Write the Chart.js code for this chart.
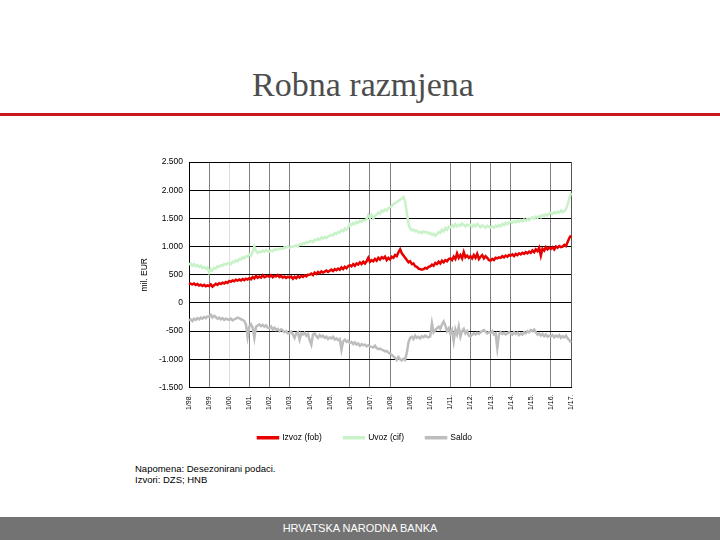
<!DOCTYPE html>
<html>
<head>
<meta charset="utf-8">
<script src="https://cdn.jsdelivr.net/npm/chart.js@4.4.1/dist/chart.umd.min.js"></script>
<style>
  body { margin: 0; width: 720px; height: 540px; background: #fff; position: relative; overflow: hidden; font-family: 'Liberation Sans', Arial, sans-serif; }
  #title { position: absolute; left: 0; width: 726px; top: 68px; text-align: center; font-family: 'Liberation Serif', 'Times New Roman', serif; font-size: 34px; line-height: 34px; color: #4d4d4d; }
  #rule { position: absolute; left: 0; top: 113px; width: 720px; height: 3px; background: #c8171e; }
  #chart { position: absolute; left: 130px; top: 150px; }
  #notes { position: absolute; left: 135px; top: 463px; font-size: 9.5px; line-height: 11px; color: #000; }
  #footer { position: absolute; left: 0; top: 517px; width: 720px; height: 23px; background: #737373; color: #fff; text-align: center; font-size: 11px; line-height: 23px; }
</style>
</head>
<body>
<div id="title">Robna razmjena</div>
<div id="rule"></div>
<canvas id="chart" width="450" height="302"></canvas>
<div id="notes">Napomena: Desezonirani podaci.<br>Izvori: DZS; HNB</div>
<div id="footer">HRVATSKA NARODNA BANKA</div>
<script>
// godišnje oznake na x osi (siječanj svake godine)
const yearTicks = ['1/98.', '1/99.', '1/00.', '1/01.', '1/02.', '1/03.', '1/04.', '1/05.', '1/06.', '1/07.',
  '1/08.', '1/09.', '1/10.', '1/11.', '1/12.', '1/13.', '1/14.', '1/15.', '1/16.', '1/17.'];

// mjesečni podaci, mil. EUR, 1/98 - 1/17
const izvoz = [
  350, 340, 330, 345, 320, 335, 310, 325, 300, 320, 295, 310,
  300, 330, 290, 315, 340, 320, 350, 335, 360, 345, 370, 355,
  390, 375, 400, 385, 410, 395, 415, 400, 425, 405, 430, 415,
  440, 420, 460, 435, 480, 445, 470, 450, 490, 455, 470, 480,
  465, 490, 455, 480, 470, 495, 460, 480, 450, 470, 445, 465,
  450, 470, 430, 465, 440, 475, 450, 480, 460, 490, 470, 500,
  500, 520, 495, 540, 515, 550, 525, 560, 540, 555, 575, 550,
  570, 590, 565, 600, 580, 610, 590, 630, 600, 640, 615, 650,
  670, 650, 690, 660, 700, 680, 720, 690, 730, 700, 740, 800,
  730, 760, 740, 780, 750, 800, 770, 810, 790, 820, 760, 800,
  770, 820, 800, 850, 830, 900, 950, 880, 840, 800, 760, 720,
  740, 690, 700, 650, 640, 610, 600, 590, 600, 620, 610, 640,
  650, 680, 660, 710, 690, 730, 700, 750, 720, 760, 740, 780,
  790, 760, 820, 780, 880, 800, 850, 790, 900, 810, 840, 800,
  830, 790, 850, 800, 870, 780, 820, 850, 790, 830, 800, 760,
  750, 780, 760, 800, 790, 810, 800, 830, 810, 840, 820, 850,
  840, 860, 830, 870, 850, 880, 860, 890, 870, 900, 880, 910,
  890, 930, 900, 950, 920, 980, 840, 960, 930, 990, 950, 980,
  960, 990, 950, 1000, 980, 1010, 990, 1000, 1030, 1010, 1080, 1150,
  1200
];

const uvoz = [
  680, 700, 660, 690, 650, 670, 640, 660, 620, 640, 610, 630,
  540, 600, 580, 620, 610, 650, 640, 670, 660, 690, 680, 700,
  710, 690, 730, 720, 760, 740, 780, 770, 810, 790, 830, 820,
  860, 840, 900, 1000, 920, 890, 910, 900, 930, 910, 940, 920,
  910, 930, 920, 950, 940, 960, 950, 970, 960, 990, 980, 1000,
  980, 990, 1000, 1010, 1020, 1000, 1040, 1030, 1060, 1050, 1080, 1070,
  1090, 1100, 1080, 1120, 1110, 1140, 1120, 1160, 1140, 1170, 1150, 1180,
  1190, 1210, 1200, 1240, 1220, 1260, 1250, 1290, 1270, 1320, 1300, 1340,
  1400, 1380, 1420, 1400, 1440, 1420, 1460, 1440, 1470, 1460, 1490, 1560,
  1510, 1560, 1500, 1540, 1570, 1600, 1580, 1640, 1620, 1660, 1640, 1680,
  1700, 1720, 1750, 1770, 1790, 1810, 1830, 1850, 1880, 1800, 1600, 1400,
  1320, 1290, 1300, 1270, 1280, 1250, 1260, 1240, 1270, 1250, 1260, 1230,
  1240, 1210, 1230, 1190, 1220, 1260, 1240, 1300, 1270, 1330, 1300, 1350,
  1340, 1380, 1350, 1400, 1360, 1390, 1370, 1410, 1380, 1360, 1390, 1370,
  1380, 1350, 1390, 1360, 1400, 1370, 1340, 1380, 1360, 1330, 1370, 1350,
  1340, 1360, 1330, 1370, 1350, 1380, 1360, 1400, 1380, 1420, 1400, 1430,
  1440, 1420, 1450, 1430, 1460, 1440, 1470, 1450, 1480, 1460, 1490, 1470,
  1500, 1520, 1490, 1530, 1510, 1540, 1520, 1560, 1540, 1570, 1550, 1590,
  1600, 1580, 1610, 1590, 1620, 1600, 1640, 1610, 1630, 1660, 1750, 1850,
  1950
];

const saldo = [
  -310, -290, -320, -280, -300, -270, -290, -260, -280, -250, -270, -240,
  -240, -210, -260, -230, -250, -280, -260, -290, -270, -300, -280, -290,
  -300, -280, -310, -290, -280, -260, -270, -290, -300, -320, -380, -600,
  -420, -380, -440, -620, -420, -400, -380, -410, -390, -420, -400, -440,
  -450, -420, -470, -440, -480, -460, -500, -470, -490, -520, -500, -540,
  -530, -510, -560, -620, -540, -520, -650, -540, -560, -530, -580, -550,
  -660, -740, -560, -540, -590, -620, -570, -600, -580, -620, -600, -640,
  -610, -630, -600, -650, -630, -660, -640, -830, -680, -650, -690, -670,
  -710, -690, -730, -700, -740, -720, -760, -730, -750, -740, -770, -750,
  -770, -780, -790, -760, -800, -820, -810, -830, -840, -860, -850, -880,
  -900, -920, -950, -970, -1010, -960, -1000, -1020, -990, -1010, -880, -700,
  -620, -600, -640, -580, -620, -600, -630, -590, -610, -580, -600, -610,
  -590, -360, -520, -480, -450, -420, -460, -380, -330, -400, -500, -450,
  -540, -480, -680, -470, -560, -420, -600, -500, -460, -540, -500, -580,
  -590, -560, -540, -560, -530, -550, -520, -500, -480, -510, -540, -520,
  -530, -500, -560, -540, -800, -560, -520, -550, -530, -560, -540, -520,
  -540, -560, -520, -550, -530, -570, -540, -560, -520, -540, -500, -520,
  -480, -500, -470, -520, -560, -540, -580, -550, -590, -560, -600, -580,
  -590, -570, -610, -580, -600, -570, -620, -590, -610, -580, -630, -660,
  -700
];

// boja okomitih linija mreže po godinama (neke linije na izvorniku nedostaju)
const yearGrid = ['#000000', '#808080', '#dddddd', '#808080', '#808080', '#808080', 'rgba(0,0,0,0)', 'rgba(0,0,0,0)',
  '#808080', '#808080', '#808080', 'rgba(0,0,0,0)', 'rgba(0,0,0,0)', '#808080', '#808080', '#808080',
  '#808080', 'rgba(0,0,0,0)', '#808080', '#555555'];

const months = [];
yearTicks.forEach((t, y) => {
  const yy = t.slice(2, 4);
  for (let m = 1; m <= 12; m++) {
    if (y === yearTicks.length - 1 && m > 1) break;
    months.push(m + '/' + yy + '.');
  }
});

const fmt = (v) => {
  const s = Math.abs(v).toString();
  const body = s.length > 3 ? s.slice(0, -3) + '.' + s.slice(-3) : s;
  return (v < 0 ? '-' : '') + body;
};

Chart.defaults.font.family = "'Liberation Sans', Arial, sans-serif";
Chart.defaults.color = '#000';

const ctx = document.getElementById('chart').getContext('2d');
new Chart(ctx, {
  type: 'line',
  data: {
    labels: months,
    datasets: [
      { label: 'Izvoz (fob)', data: izvoz, borderColor: '#e60000', backgroundColor: '#e60000', borderWidth: 2.5 },
      { label: 'Uvoz (cif)', data: uvoz, borderColor: '#c9f2c9', backgroundColor: '#c9f2c9', borderWidth: 2.5 },
      { label: 'Saldo', data: saldo, borderColor: '#bdbdbd', backgroundColor: '#bdbdbd', borderWidth: 2.5 }
    ]
  },
  options: {
    responsive: false,
    animation: false,
    devicePixelRatio: 1,
    layout: { padding: { left: 29, right: 9, top: 12, bottom: 0 } },
    elements: { point: { radius: 0 }, line: { tension: 0 } },
    plugins: {
      tooltip: { enabled: false },
      legend: {
        position: 'bottom',
        labels: { boxWidth: 20, boxHeight: 1, padding: 22, font: { size: 8.5 }, color: '#000' }
      }
    },
    scales: {
      x: {
        offset: false,
        grid: {
          drawTicks: false,
          color: (c) => (c.index % 12 === 0 ? yearGrid[c.index / 12] : 'rgba(0,0,0,0)')
        },
        border: { color: '#000' },
        ticks: {
          autoSkip: false,
          minRotation: 90,
          maxRotation: 90,
          padding: 7,
          font: { size: 7 },
          callback: (v, i) => (i % 12 === 0 ? yearTicks[i / 12] : '')
        },
        afterFit: (scale) => {
          scale.height = 24;
          scale.paddingLeft = 0;
          scale.paddingRight = 0;
        }
      },
      y: {
        min: -1500,
        max: 2500,
        ticks: { stepSize: 500, padding: 6, font: { size: 8.5 }, callback: (v) => fmt(v) },
        grid: { drawTicks: false, color: '#000' },
        border: { color: '#000' },
        title: { display: true, text: 'mil. EUR', font: { size: 8.5 }, padding: { top: -19, bottom: 0 } },
        afterFit: (scale) => { scale.width = 30; }
      }
    }
  }
});
</script>
</body>
</html>
